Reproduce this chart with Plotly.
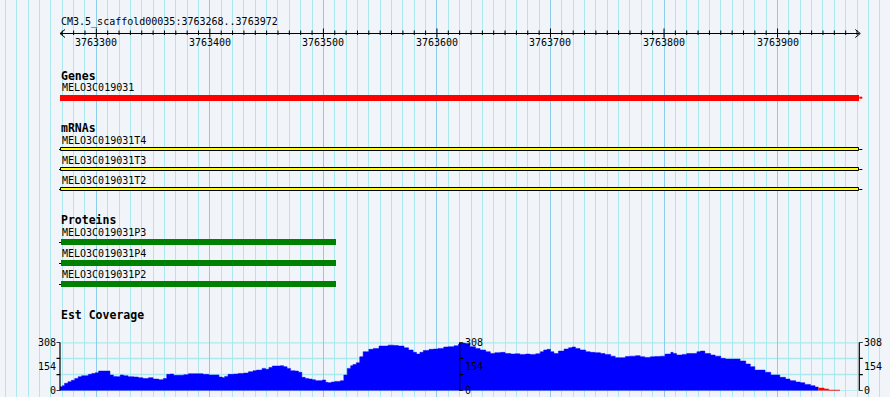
import plotly.graph_objects as go

# ---------------- data ----------------
REF_NAME = "CM3.5_scaffold00035"
VIEW_START = 3763268
VIEW_END = 3763972

GENE_NAMES = ["MELO3C019031"]
GENE_STARTS = [3763268]
GENE_ENDS = [3763972]

MRNA_NAMES = ["MELO3C019031T4", "MELO3C019031T3", "MELO3C019031T2"]
MRNA_STARTS = [3763269, 3763269, 3763269]
MRNA_ENDS = [3763972, 3763972, 3763972]

PROTEIN_NAMES = ["MELO3C019031P3", "MELO3C019031P4", "MELO3C019031P2"]
PROTEIN_STARTS = [3763269, 3763269, 3763269]
PROTEIN_ENDS = [3763511, 3763511, 3763511]

# Est coverage: bin start offsets (bp from VIEW_START) and depth values
COV_OFFSETS = [0, 2, 4, 7, 10, 13, 16, 19, 25, 28, 31, 34, 41, 44, 47, 50, 53, 56, 60, 65,
               69, 73, 78, 82, 87, 91, 94, 97, 100, 109, 113, 122, 126, 131, 140, 143, 145,
               148, 153, 157, 162, 166, 170, 173, 178, 181, 184, 187, 194, 197, 200, 203,
               207, 210, 213, 216, 219, 222, 225, 231, 234, 236, 239, 242, 247, 250, 253,
               256, 258, 261, 264, 267, 272, 276, 281, 289, 294, 298, 303, 307, 311, 314,
               317, 320, 325, 329, 333, 338, 342, 347, 351, 352, 357, 361, 366, 370, 375,
               379, 383, 388, 392, 397, 401, 405, 410, 414, 419, 423, 426, 429, 432, 435,
               439, 444, 448, 451, 454, 458, 463, 467, 471, 476, 480, 485, 489, 493, 498,
               502, 507, 511, 515, 520, 524, 529, 533, 538, 540, 543, 548, 552, 561, 564,
               568, 573, 577, 582, 586, 595, 599, 604, 608, 612, 617, 621, 626, 630, 634,
               639, 643, 648, 652, 656, 661, 665, 668, 673, 677]
COV_VALUES = [25, 32, 47, 57, 66, 78, 89, 95, 104, 110, 114, 125, 125, 100, 91, 89, 100, 95, 89, 87,
              83, 78, 83, 74, 70, 78, 104, 106, 98, 102, 108, 108, 104, 100, 87, 83, 91,
              104, 106, 110, 112, 121, 127, 131, 142, 136, 148, 157, 159, 153, 142, 127,
              125, 117, 85, 78, 74, 70, 64, 68, 53, 51, 55, 59, 64, 100, 142,
              159, 167, 178, 216, 248, 263, 269, 284, 290, 288, 284, 273, 259, 244, 233,
              244, 256, 263, 265, 269, 278, 280, 286, 297, 303, 301, 280, 269, 259, 248,
              237, 242, 244, 237, 233, 235, 231, 233, 231, 235, 248, 259, 263, 248, 237,
              252, 265, 273, 278, 269, 259, 248, 244, 242, 237, 231, 220, 210, 210, 218,
              220, 223, 216, 212, 216, 218, 220, 233, 244, 237, 227, 231, 237, 248, 252,
              237, 227, 220, 206, 201, 201, 189, 170, 153, 131, 131, 117, 100, 100, 85,
              74, 64, 55, 51, 40, 32, 23, 17, 11, 4]
COV_END_OFFSET = 687
COV_MAX = 308
COV_LOW = 20

# ---------------- geometry / style ----------------
W, H = 890, 397
PX_L, PX_R = 60.0, 859.3
SCALE = (PX_R - PX_L) / (VIEW_END - VIEW_START)  # px per bp
XR0 = VIEW_START - PX_L / SCALE
XR1 = VIEW_END + (W - PX_R) / SCALE


def px2bp(px):
    return XR0 + px / SCALE


BG = "#F1F5F9"
GRID_MINOR = "#ABE9EE"
GRID_MAJOR = "#8DCBEA"
FONT = "DejaVu Sans Mono"
COV_Y0, COV_Y1 = 390.7, 342.3   # pixel rows of 0 and max

fig = go.Figure()
annotations = []
shapes = []


def text(xpx, ypx, s, bold=False, size=10, anchor="left", xref="paper", x=None, yref="y", y=None):
    annotations.append(dict(
        x=(xpx / W) if x is None else x, xref=xref,
        y=ypx if y is None else y, yref=yref,
        text=("<b>%s</b>" % s) if bold else s, showarrow=False,
        xanchor=anchor, yanchor="middle",
        font=dict(family=FONT, size=size, color="black"), borderpad=0))


def hline(x0, x1, y, color="black", width=1):
    fig.add_trace(go.Scatter(x=[x0, x1], y=[y, y], mode="lines",
                             line=dict(color=color, width=width), hoverinfo="skip", showlegend=False))


# ---------------- ruler ----------------
RULER_Y = 33.5
text(PX_L, 21.5, "%s:%d..%d" % (REF_NAME, VIEW_START, VIEW_END))
hline(VIEW_START, VIEW_END, RULER_Y)
tx, ty = [], []
first10 = (VIEW_START // 10 + 1) * 10
for p in range(first10, VIEW_END, 10):
    if p % 100 == 0:
        tx += [p, p, None]
        ty += [RULER_Y - 5, RULER_Y + 4, None]
        text(0, 42.5, str(p), anchor="center", xref="x", x=p)
    else:
        tx += [p, p, None]
        ty += [RULER_Y - 3, RULER_Y + 1.5, None]
# arrowheads
tx += [px2bp(PX_L + 5), px2bp(PX_L), px2bp(PX_L + 5), None,
       px2bp(PX_R - 4), px2bp(PX_R + 1), px2bp(PX_R - 4)]
ty += [RULER_Y - 4, RULER_Y, RULER_Y + 4, None, RULER_Y - 4, RULER_Y, RULER_Y + 4]
fig.add_trace(go.Scatter(x=tx, y=ty, mode="lines", line=dict(color="black", width=1),
                         hoverinfo="skip", showlegend=False))

# ---------------- Genes ----------------
text(PX_L, 76, "Genes", bold=True, size=11.5)
GENE_ROW0, ROW_STEP = 97.7, 20
for i, (n, s, e) in enumerate(zip(GENE_NAMES, GENE_STARTS, GENE_ENDS)):
    yc = GENE_ROW0 + i * ROW_STEP
    text(PX_L + 0.5, yc - 10, n)
    fig.add_trace(go.Bar(orientation="h", y=[yc], base=[s], x=[e - s], width=[6],
                         marker=dict(color="#FF0000", line=dict(width=0)),
                         hoverinfo="skip", showlegend=False))
    hline(e, e + 3 / SCALE, yc, color="#FF0000", width=2)

# ---------------- mRNAs ----------------
text(PX_L, 128, "mRNAs", bold=True, size=11.5)
MRNA_ROW0, MRNA_STEP = 149, 20
for i, (n, s, e) in enumerate(zip(MRNA_NAMES, MRNA_STARTS, MRNA_ENDS)):
    yc = MRNA_ROW0 + i * MRNA_STEP
    text(PX_L + 0.5, yc - 8.5, n)
    hline(VIEW_START - 1 / SCALE, s, yc + 0.5)
    hline(e, e + 3 / SCALE, yc + 0.5)
    fig.add_trace(go.Bar(orientation="h", y=[yc], base=[s], x=[e - s], width=[3],
                         marker=dict(color="#FFFF00", line=dict(width=1, color="black")),
                         hoverinfo="skip", showlegend=False))

# ---------------- Proteins ----------------
text(PX_L, 220, "Proteins", bold=True, size=11.5)
PROT_ROW0, PROT_STEP = 242, 21
for i, (n, s, e) in enumerate(zip(PROTEIN_NAMES, PROTEIN_STARTS, PROTEIN_ENDS)):
    yc = PROT_ROW0 + i * PROT_STEP
    text(PX_L + 0.5, yc - 9.5, n)
    hline(VIEW_START - 1 / SCALE, s, yc + 0.5)
    fig.add_trace(go.Bar(orientation="h", y=[yc], base=[s], x=[e - s], width=[6],
                         marker=dict(color="#008000", line=dict(width=0)),
                         hoverinfo="skip", showlegend=False))

# ---------------- Est coverage ----------------
text(PX_L, 315, "Est Coverage", bold=True, size=11.5)
starts = [VIEW_START + o for o in COV_OFFSETS]
ends = starts[1:] + [VIEW_START + COV_END_OFFSET]
colors = ["#FF0000" if v < COV_LOW else "#0000FF" for v in COV_VALUES]
# split into contiguous runs of the same colour, drawn as filled step areas
i = 0
while i < len(COV_VALUES):
    j = i
    while j + 1 < len(COV_VALUES) and colors[j + 1] == colors[i]:
        j += 1
    xs = starts[i:j + 1] + [ends[j]]
    ys = COV_VALUES[i:j + 1] + [COV_VALUES[j]]
    fig.add_trace(go.Scatter(x=xs, y=ys, yaxis="y2", mode="lines", line_shape="hv",
                             line=dict(color=colors[i], width=0.5), fill="tozeroy",
                             fillcolor=colors[i], hoverinfo="skip", showlegend=False))
    i = j + 1

cov_ticks = [0, COV_MAX / 3, 2 * COV_MAX / 3, COV_MAX]
cov_labels = [0, COV_MAX // 2, COV_MAX]
for t in cov_ticks:
    shapes.append(dict(type="line", xref="x", yref="y2", x0=VIEW_START, x1=VIEW_END, y0=t, y1=t,
                       line=dict(color=GRID_MINOR, width=2.5 if t == COV_MAX else 1.5), layer="below"))

mid = (VIEW_START + VIEW_END) / 2
for ax_x, side in [(VIEW_START, -1), (mid, 1), (VIEW_END, 1)]:
    shapes.append(dict(type="line", xref="x", yref="y2", x0=ax_x, x1=ax_x, y0=0, y1=COV_MAX,
                       line=dict(color="black", width=1.2), layer="above"))
    for t in cov_ticks:
        shapes.append(dict(type="line", xref="x", yref="y2", xsizemode="pixel", xanchor=ax_x,
                           x0=0, x1=3.5 * side, y0=t, y1=t,
                           line=dict(color="black", width=1.2), layer="above"))
    for lab in cov_labels:
        annotations.append(dict(x=ax_x, xref="x", y=lab, yref="y2", text=str(lab), showarrow=False,
                                xanchor="right" if side < 0 else "left", yanchor="middle",
                                xshift=-3 if side < 0 else 4,
                                font=dict(family=FONT, size=10, color="black"), borderpad=0))

cov_dom = [(H - COV_Y0) / H, (H - COV_Y1) / H]

fig.update_layout(
    width=W, height=H, autosize=False,
    margin=dict(l=0, r=0, t=0, b=0, pad=0),
    paper_bgcolor=BG, plot_bgcolor=BG,
    barmode="overlay", bargap=0,
    showlegend=False, hovermode=False,
    xaxis=dict(type="linear", range=[XR0, XR1], domain=[0, 1], anchor="y",
               showgrid=True, gridcolor=GRID_MAJOR, gridwidth=1, dtick=100, tick0=0,
               showticklabels=False, ticks="", zeroline=False, showline=False, fixedrange=True,
               minor=dict(dtick=10, tick0=0, showgrid=True, gridcolor=GRID_MINOR, gridwidth=1)),
    yaxis=dict(range=[H, 0], domain=[0, 1], visible=False, showgrid=False, zeroline=False,
               fixedrange=True),
    yaxis2=dict(range=[0, COV_MAX], domain=cov_dom, anchor="x", showgrid=False, zeroline=False,
                showticklabels=False, ticks="", showline=False, fixedrange=True),
    annotations=annotations,
    shapes=shapes,
)

fig.write_html("out.html", config={"displayModeBar": False},
               post_script="document.body.style.margin='0';document.body.style.overflow='hidden';")
